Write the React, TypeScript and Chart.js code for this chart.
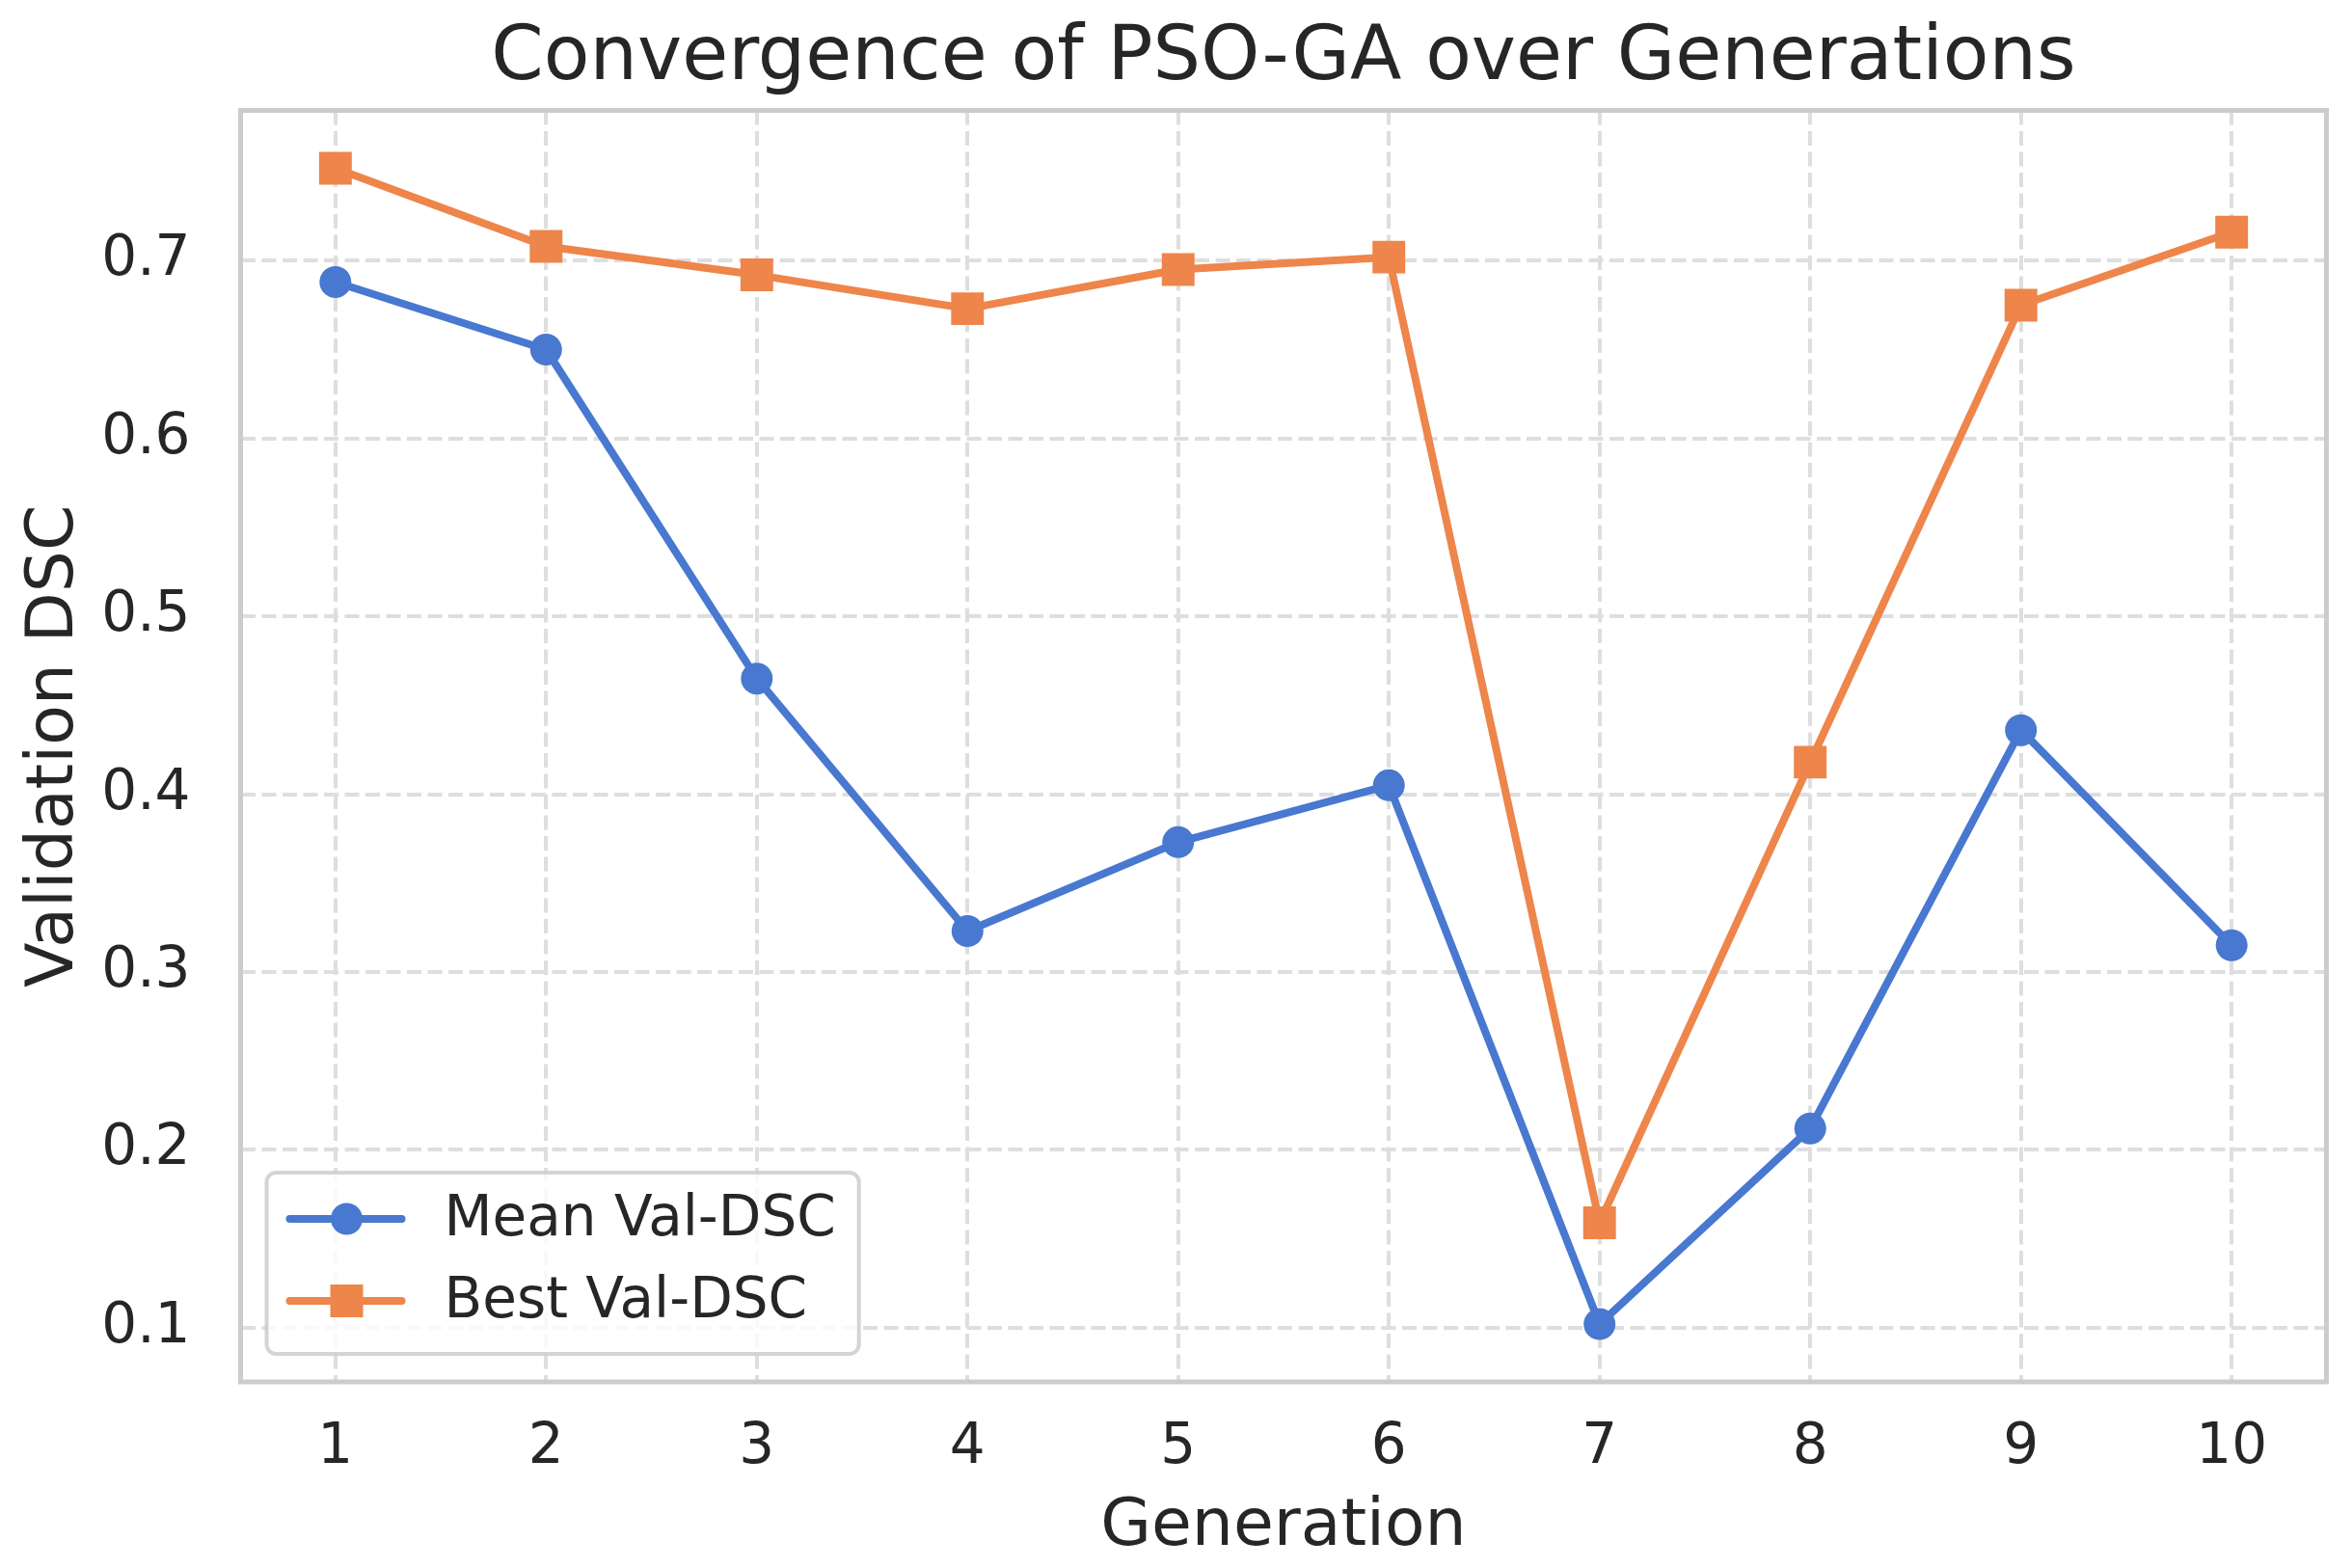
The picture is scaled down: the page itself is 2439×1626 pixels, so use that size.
import { useEffect, useRef } from 'react';
import { Chart, registerables } from 'chart.js';
import type { Plugin } from 'chart.js';

Chart.register(...registerables);

const GENERATIONS = [1, 2, 3, 4, 5, 6, 7, 8, 9, 10];
const MEAN_VAL_DSC = [0.688, 0.65, 0.465, 0.323, 0.373, 0.405, 0.102, 0.212, 0.436, 0.315];
const BEST_VAL_DSC = [0.752, 0.708, 0.692, 0.673, 0.695, 0.702, 0.159, 0.418, 0.675, 0.716];
const Y_TICKS = [0.1, 0.2, 0.3, 0.4, 0.5, 0.6, 0.7];

const W = 2439;
const H = 1626;
const FONT = '"DejaVu Sans", "Noto Sans", sans-serif';
const TEXT = '#262626';
const BLUE = '#4878d0';
const ORANGE = '#ee854a';
const SPINE = '#cccccc';
const GRID = '#dedede';
const TICK_SIZE = 58;

// matplotlib-style 5% margins around the data
const pad = (lo: number, hi: number) => [lo - (hi - lo) * 0.05, hi + (hi - lo) * 0.05];
const [X_MIN, X_MAX] = pad(Math.min(...GENERATIONS), Math.max(...GENERATIONS));
const allY = [...MEAN_VAL_DSC, ...BEST_VAL_DSC];
const [Y_MIN, Y_MAX] = pad(Math.min(...allY), Math.max(...allY));

// full box around the plot area (top/right spines too)
const framePlugin: Plugin<'line'> = {
  id: 'frame',
  beforeDatasetsDraw(chart) {
    const { ctx, chartArea: a } = chart;
    ctx.save();
    ctx.strokeStyle = SPINE;
    ctx.lineWidth = 5;
    ctx.strokeRect(a.left, a.top, a.right - a.left, a.bottom - a.top);
    ctx.restore();
  },
};

// legend in the lower-left corner, line + marker handles like matplotlib
const legendPlugin: Plugin<'line'> = {
  id: 'boxLegend',
  afterDraw(chart) {
    const { ctx, chartArea: a } = chart;
    const sets = chart.data.datasets;
    ctx.save();
    ctx.font = `${TICK_SIZE}px ${FONT}`;
    const textW = Math.max(...sets.map((d) => ctx.measureText(String(d.label)).width));
    const left = a.left + 27;
    const height = 188;
    const top = a.bottom - 29 - height;
    const textX = left + 184;
    const width = textX - left + textW + 24;

    ctx.beginPath();
    ctx.roundRect(left, top, width, height, 10);
    ctx.fillStyle = 'rgba(255,255,255,0.8)';
    ctx.fill();
    ctx.lineWidth = 4;
    ctx.strokeStyle = 'rgba(204,204,204,0.85)';
    ctx.stroke();

    sets.forEach((ds, i) => {
      const y = top + 48 + i * 85;
      const color = ds.borderColor as string;
      const cx = left + 83;
      ctx.strokeStyle = color;
      ctx.lineWidth = 8;
      ctx.lineCap = 'round';
      ctx.beginPath();
      ctx.moveTo(left + 24, y);
      ctx.lineTo(left + 140, y);
      ctx.stroke();
      ctx.fillStyle = color;
      if ((ds as any).pointStyle === 'rect') {
        ctx.fillRect(cx - 17, y - 17, 34, 34);
      } else {
        ctx.beginPath();
        ctx.arc(cx, y, 16.5, 0, Math.PI * 2);
        ctx.fill();
      }
      ctx.fillStyle = TEXT;
      ctx.textAlign = 'left';
      ctx.textBaseline = 'middle';
      ctx.fillText(String(ds.label), textX, y + 2);
    });
    ctx.restore();
  },
};

export default function App() {
  const canvasRef = useRef<HTMLCanvasElement>(null);

  useEffect(() => {
    if (!canvasRef.current) return;

    const chart = new Chart(canvasRef.current, {
      type: 'line',
      data: {
        datasets: [
          {
            label: 'Mean Val-DSC',
            data: GENERATIONS.map((g, i) => ({ x: g, y: MEAN_VAL_DSC[i] })),
            borderColor: BLUE,
            backgroundColor: BLUE,
            borderWidth: 8,
            borderJoinStyle: 'round',
            pointStyle: 'circle',
            pointRadius: 16.5,
            pointBorderWidth: 0,
            pointBackgroundColor: BLUE,
            order: 2,
          },
          {
            label: 'Best Val-DSC',
            data: GENERATIONS.map((g, i) => ({ x: g, y: BEST_VAL_DSC[i] })),
            borderColor: ORANGE,
            backgroundColor: ORANGE,
            borderWidth: 8,
            borderJoinStyle: 'round',
            pointStyle: 'rect',
            pointRadius: 24,
            pointBorderWidth: 0,
            pointBackgroundColor: ORANGE,
            order: 1,
          },
        ],
      },
      options: {
        responsive: false,
        devicePixelRatio: 1,
        animation: false,
        events: [],
        layout: { padding: { top: 0, left: 0, bottom: 0, right: 26.5 } },
        font: { family: FONT },
        plugins: {
          legend: { display: false },
          tooltip: { enabled: false },
          title: {
            display: true,
            fullSize: false,
            text: 'Convergence of PSO-GA over Generations',
            color: TEXT,
            font: { family: FONT, size: 78, weight: 'normal', lineHeight: 1.2 },
            padding: { top: 14.7, bottom: 6.2 },
          },
        },
        scales: {
          x: {
            type: 'linear',
            min: X_MIN,
            max: X_MAX,
            afterBuildTicks: (axis) => {
              axis.ticks = GENERATIONS.map((value) => ({ value }));
            },
            afterFit: (axis) => {
              axis.height = 193;
            },
            grid: { color: GRID, lineWidth: 4, drawTicks: false },
            border: { display: false, dash: [15, 6.5] },
            ticks: {
              color: TEXT,
              padding: 34,
              font: { family: FONT, size: TICK_SIZE, lineHeight: 1.2 },
              callback: (v) => String(v),
            },
            title: {
              display: true,
              text: 'Generation',
              color: TEXT,
              font: { family: FONT, size: 68, lineHeight: 1.2 },
              padding: { top: 0, bottom: 1.2 },
            },
          },
          y: {
            type: 'linear',
            min: Y_MIN,
            max: Y_MAX,
            afterBuildTicks: (axis) => {
              axis.ticks = Y_TICKS.map((value) => ({ value }));
            },
            afterFit: (axis) => {
              axis.width = 249.5;
            },
            grid: { color: GRID, lineWidth: 4, drawTicks: false },
            border: { display: false, dash: [15, 6.5] },
            ticks: {
              color: TEXT,
              padding: 52,
              font: { family: FONT, size: TICK_SIZE, lineHeight: 1.2 },
              callback: (v) => Number(v).toFixed(1),
            },
            title: {
              display: true,
              text: 'Validation DSC',
              color: TEXT,
              font: { family: FONT, size: 68, lineHeight: 1.2 },
              padding: { top: 17, bottom: 0 },
            },
          },
        },
      },
      plugins: [framePlugin, legendPlugin],
    });

    return () => {
      chart.destroy();
    };
  }, []);

  return (
    <div style={{ position: 'fixed', left: 0, top: 0, width: W, height: H, background: '#fff' }}>
      <canvas ref={canvasRef} width={W} height={H} style={{ display: 'block', width: W, height: H }} />
    </div>
  );
}
